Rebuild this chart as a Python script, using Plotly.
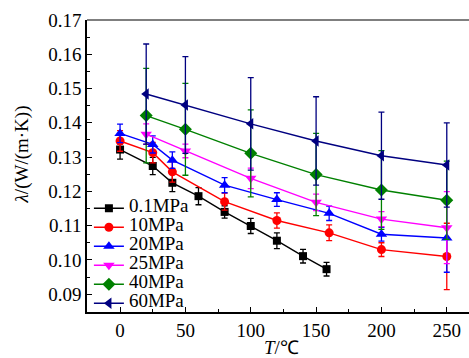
import plotly.graph_objects as go

# ---- data ----
series_names = ["0.1MPa", "10MPa", "20MPa", "25MPa", "40MPa", "60MPa"]

temps_01 = [0, 25, 40, 60, 80, 100, 120, 140, 158]
lam_01 = [0.1322, 0.1274, 0.1225, 0.1186, 0.1140, 0.1099, 0.1056, 0.1011, 0.0973]
err_01 = [0.0028, 0.0025, 0.0026, 0.0025, 0.0018, 0.0022, 0.0023, 0.0020, 0.0020]

temps_10 = [0, 25, 40, 80, 120, 160, 200, 250]
lam_10 = [0.1347, 0.1313, 0.1257, 0.1170, 0.1115, 0.1079, 0.1030, 0.1010]
err_10 = [0.0030, 0.0030, 0.0030, 0.0025, 0.0022, 0.0023, 0.0020, 0.0097]

temps_20 = [0, 25, 40, 80, 120, 160, 200, 250]
lam_20 = [0.1369, 0.1337, 0.1291, 0.1218, 0.1176, 0.1136, 0.1075, 0.1064]
err_20 = [0.0027, 0.0025, 0.0024, 0.0022, 0.0020, 0.0021, 0.0020, 0.0100]

temps_25 = [20, 50, 100, 150, 200, 250]
lam_25 = [0.1367, 0.1318, 0.1238, 0.1168, 0.1119, 0.1094]
err_25 = [0.0030, 0.0020, 0.0030, 0.0024, 0.0022, 0.0105]

temps_40 = [20, 50, 100, 150, 200, 250]
lam_40 = [0.1421, 0.1381, 0.1311, 0.1249, 0.1204, 0.1174]
err_40 = [0.0138, 0.0134, 0.0127, 0.0120, 0.0115, 0.0114]

temps_60 = [20, 50, 100, 150, 200, 250]
lam_60 = [0.1484, 0.1452, 0.1397, 0.1347, 0.1304, 0.1277]
err_60 = [0.0146, 0.0141, 0.0135, 0.0129, 0.0127, 0.0123]

x_ticks = [0, 50, 100, 150, 200, 250]
y_ticks = [0.09, 0.10, 0.11, 0.12, 0.13, 0.14, 0.15, 0.16, 0.17]
y_tick_text = ["0.09", "0.10", "0.11", "0.12", "0.13", "0.14", "0.15", "0.16", "0.17"]

# ---- styles ----
colors = ["#000000", "#ff0000", "#0000ff", "#ff00ff", "#008000", "#000080"]
symbols = ["square", "circle", "triangle-up", "triangle-down", "diamond", "triangle-left"]
sizes = [8, 9, 10, 10, 10, 10]

xs = [temps_01, temps_10, temps_20, temps_25, temps_40, temps_60]
ys = [lam_01, lam_10, lam_20, lam_25, lam_40, lam_60]
es = [err_01, err_10, err_20, err_25, err_40, err_60]

FONT = "Liberation Serif, Times New Roman, serif"
FS = 19

fig = go.Figure()
for name, x, y, e, c, s, sz in zip(series_names, xs, ys, es, colors, symbols, sizes):
    fig.add_trace(go.Scatter(
        x=x, y=y, name='<span style="font-size:19px">' + name + '</span>',
        mode="lines+markers",
        line=dict(color=c, width=1.4),
        marker=dict(symbol=s, size=sz, color=c, line=dict(width=0)),
        error_y=dict(type="data", array=e, visible=True, color=c, thickness=1.3, width=3),
    ))

fig.update_layout(
    width=469, height=358,
    margin=dict(l=87, r=0, t=20, b=46),
    paper_bgcolor="white", plot_bgcolor="white",
    font=dict(family=FONT, size=FS, color="black"),
    showlegend=True,
    legend=dict(
        x=0.005, y=0.405, xanchor="left", yanchor="top",
        bgcolor="rgba(0,0,0,0)", borderwidth=0,
        font=dict(family=FONT, size=10, color="black"),
        itemwidth=30,
    ),
    xaxis=dict(
        range=[-25.3, 267.0],
        tickvals=x_ticks,
        ticks="inside", ticklen=5, tickwidth=1.2, tickcolor="black",
        showline=True, linecolor="black", linewidth=1.5,
        showgrid=False, zeroline=False,
        minor=dict(dtick=25, tick0=0, ticks="inside", ticklen=3, tickwidth=1, tickcolor="black", showgrid=False),
        tickfont=dict(family=FONT, size=FS),
    ),
    yaxis=dict(
        range=[0.0848, 0.1700],
        tickvals=y_ticks, ticktext=y_tick_text,
        ticks="inside", ticklen=5, tickwidth=1.2, tickcolor="black",
        showline=True, linecolor="black", linewidth=1.5,
        showgrid=False, zeroline=False,
        minor=dict(dtick=0.005, tick0=0.085, ticks="inside", ticklen=3, tickwidth=1, tickcolor="black", showgrid=False),
        tickfont=dict(family=FONT, size=FS),
    ),
    shapes=[dict(type="line", xref="paper", yref="paper", x0=0, x1=1, y0=1, y1=1,
                 line=dict(color="#555555", width=1.5))],
    annotations=[
        dict(text="<i>λ</i>/(W/(m·K))", xref="paper", yref="paper", x=-0.17, y=0.54,
             textangle=-90, showarrow=False, font=dict(family=FONT, size=FS),
             xanchor="center", yanchor="middle"),
        dict(text="<i>T</i>/℃", xref="paper", yref="paper", x=0.51, y=-0.122,
             showarrow=False, font=dict(family=FONT, size=FS),
             xanchor="center", yanchor="middle"),
    ],
)

fig.write_html("out.html", config={"displayModeBar": False},
               post_script="document.body.style.margin='0';")
